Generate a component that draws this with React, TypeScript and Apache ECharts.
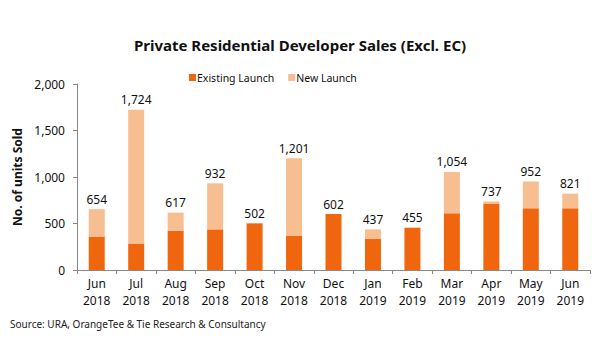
import React, { useEffect, useRef } from "react";
import * as echarts from "echarts";

const months = ["Jun", "Jul", "Aug", "Sep", "Oct", "Nov", "Dec", "Jan", "Feb", "Mar", "Apr", "May", "Jun"];
const years = ["2018", "2018", "2018", "2018", "2018", "2018", "2018", "2019", "2019", "2019", "2019", "2019", "2019"];
const totals = [654, 1724, 617, 932, 502, 1201, 602, 437, 455, 1054, 737, 952, 821];
const existingLaunch = [360, 285, 423, 437, 502, 370, 602, 333, 455, 610, 710, 663, 663];
const newLaunch = totals.map((t, i) => t - existingLaunch[i]);

const FONT = "Noto Sans";

export default function App() {
  const ref = useRef<HTMLDivElement>(null);
  useEffect(() => {
    const chart = echarts.init(ref.current!, null, { renderer: "svg" });
    chart.setOption({
      animation: false,
      backgroundColor: "#ffffff",
      textStyle: { fontFamily: FONT },
      title: {
        text: "Private Residential Developer Sales (Excl. EC)",
        left: "center",
        top: 32,
        textStyle: { fontFamily: FONT, fontSize: 15, fontWeight: "bold", color: "#111" },
      },
      legend: {
        top: 67,
        left: 184,
        itemWidth: 7,
        itemHeight: 7,
        itemGap: 14,
        icon: "rect",
        textStyle: { fontFamily: FONT, fontSize: 10.5, color: "#111", padding: [0, 0, 0, -4] },
        data: ["Existing Launch", "New Launch"],
      },
      grid: { left: 77, right: 10, top: 84, bottom: 90 },
      xAxis: {
        type: "category",
        data: months.map((m, i) => m + "\n" + years[i]),
        axisLine: { lineStyle: { color: "#888", width: 1 } },
        axisTick: { show: true, alignWithLabel: false, length: 4, lineStyle: { color: "#888" } },
        axisLabel: { fontFamily: FONT, fontSize: 12, color: "#111", lineHeight: 17, margin: 5, interval: 0 },
      },
      yAxis: {
        type: "value",
        min: 0,
        max: 2000,
        interval: 500,
        name: "No. of units Sold",
        nameLocation: "middle",
        nameGap: 51,
        nameTextStyle: { fontFamily: FONT, fontSize: 12, fontWeight: "bold", color: "#111" },
        axisLine: { show: true, lineStyle: { color: "#888", width: 1 } },
        axisTick: { show: true, length: 4, lineStyle: { color: "#888" } },
        splitLine: { show: false },
        axisLabel: {
          fontFamily: FONT,
          fontSize: 12,
          color: "#111",
          margin: 12,
          formatter: (v: number) => v.toLocaleString("en-US"),
        },
      },
      series: [
        {
          name: "Existing Launch",
          type: "bar",
          stack: "total",
          barWidth: 16,
          itemStyle: { color: "#F0660F" },
          data: existingLaunch,
        },
        {
          name: "New Launch",
          type: "bar",
          stack: "total",
          barWidth: 16,
          itemStyle: { color: "#F7BE91" },
          data: newLaunch,
          label: {
            show: true,
            position: "top",
            distance: 4,
            fontFamily: FONT,
            fontSize: 12,
            color: "#111",
            formatter: (p: any) => totals[p.dataIndex].toLocaleString("en-US"),
          },
        },
      ],
      graphic: [
        {
          type: "text",
          left: 10,
          top: 319,
          style: {
            text: "Source: URA, OrangeTee & Tie Research & Consultancy",
            fontFamily: FONT,
            fontSize: 10,
            fill: "#222",
          },
        },
      ],
    });
    return () => chart.dispose();
  }, []);
  return <div ref={ref} style={{ width: 600, height: 360, margin: -8 }} />;
}
